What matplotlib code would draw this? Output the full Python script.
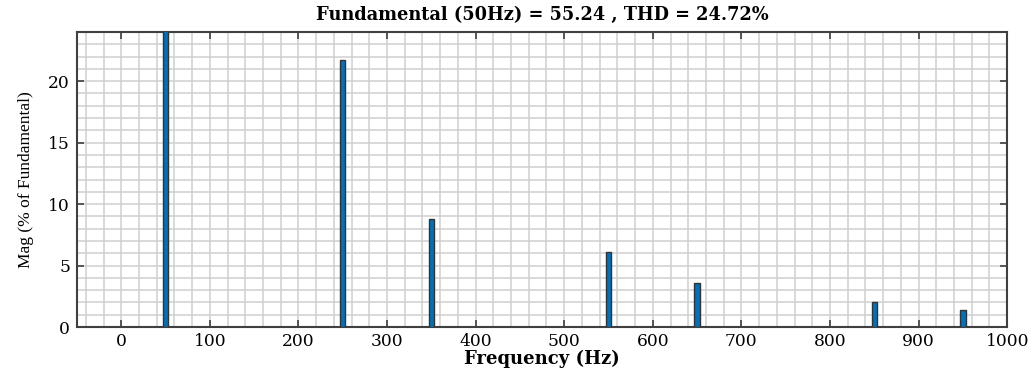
import numpy as np
import matplotlib
matplotlib.use('Agg')
import matplotlib.pyplot as plt
from matplotlib.ticker import MultipleLocator

# harmonic spectrum (% of fundamental)
freq = [50, 250, 350, 550, 650, 850, 950]
mag = [100.0, 21.7, 8.78, 6.1, 3.55, 2.06, 1.42]

title = 'Fundamental (50Hz) = 55.24 , THD = 24.72%'

fig = plt.figure(figsize=(10.33, 3.68), dpi=100)
ax = fig.add_axes([0.0745, 0.1114, 0.9005, 0.8016])

ax.bar(freq, mag, width=6, color='#0072BD', edgecolor='#333333', linewidth=1.0, zorder=3)

ax.set_xlim(-50, 1000)
ax.set_ylim(0, 24)
ax.xaxis.set_major_locator(MultipleLocator(100))
ax.xaxis.set_minor_locator(MultipleLocator(20))
ax.yaxis.set_major_locator(MultipleLocator(5))
ax.yaxis.set_minor_locator(MultipleLocator(1))

ax.set_axisbelow(True)
ax.grid(which='both', color='#cfcfcf', linewidth=1.1)

ax.tick_params(which='major', direction='in', length=5, width=1.2, color='#404040',
               top=True, right=True, labelsize=12.3, pad=4)
ax.tick_params(axis='y', pad=5)
ax.tick_params(which='minor', length=0)
for lab in ax.get_xticklabels() + ax.get_yticklabels():
    lab.set_family('DejaVu Serif')

for s in ax.spines.values():
    s.set_color('#404040')
    s.set_linewidth(1.5)

ax.set_title(title, family='DejaVu Serif', fontweight='bold', fontsize=12.8, pad=9)
ax.set_xlabel('Frequency (Hz)', family='DejaVu Serif', fontweight='bold', fontsize=13, labelpad=0)
ax.set_ylabel('Mag (% of Fundamental)', family='Liberation Serif', fontsize=12.5, labelpad=10)

plt.savefig('out.png', dpi=100)
